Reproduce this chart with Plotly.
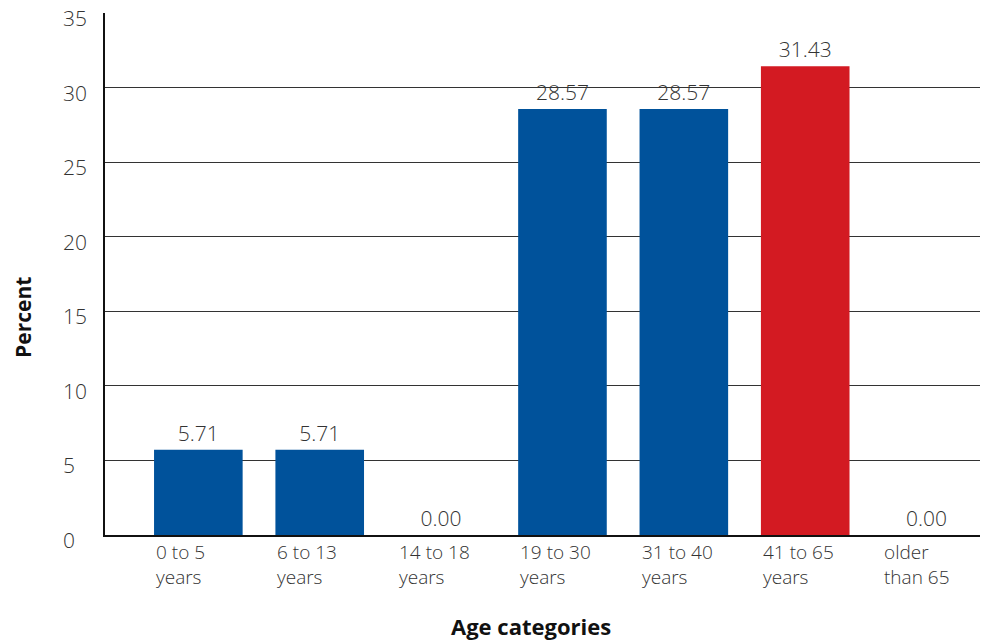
import plotly.graph_objects as go

categories = ["0 to 5<br>years", "6 to 13<br>years", "14 to 18<br>years", "19 to 30<br>years",
              "31 to 40<br>years", "41 to 65<br>years", "older<br>than 65"]
values = [5.71, 5.71, 0.00, 28.57, 28.57, 31.43, 0.00]
y_ticks = [0, 5, 10, 15, 20, 25, 30, 35]

BLUE = "#00529B"
RED = "#D31A22"
colors = [RED if v == max(values) else BLUE for v in values]
FONT = "Open Sans"
TXT = "#333333"
BW = 0.73

x = list(range(len(categories)))
fig = go.Figure()
fig.add_trace(go.Bar(
    x=x, y=values, width=BW, marker=dict(color=colors, line=dict(width=0)),
    text=[f"{v:.2f}" for v in values], textposition="outside",
    textfont=dict(family=FONT, size=21, color=TXT, weight=300), cliponaxis=False,
))

ann = []
for i, c in enumerate(categories):
    ann.append(dict(x=i - BW / 2, y=0, xref="x", yref="y", text=c, showarrow=False,
                    xanchor="left", yanchor="top", align="left", yshift=-2,
                    font=dict(family=FONT, size=19, color=TXT, weight=300)))
for t in y_ticks:
    ann.append(dict(x=-0.05, y=t, xref="paper", yref="y", text=str(t), showarrow=False,
                    xanchor="left", yanchor="middle", yshift=-5,
                    font=dict(family=FONT, size=21, color=TXT, weight=300)))
ann.append(dict(x=0.4865, y=-0.175, xref="paper", yref="paper", text="<b>Age categories</b>",
                showarrow=False, xanchor="center", yanchor="middle",
                font=dict(family=FONT, size=22, color="#111")))
ann.append(dict(x=-0.093, y=0.417, xref="paper", yref="paper", text="<b>Percent</b>",
                showarrow=False, textangle=-90, xanchor="center", yanchor="middle",
                font=dict(family=FONT, size=21, color="#111")))

fig.update_layout(
    width=988, height=641, margin=dict(l=105, r=8, t=13, b=106),
    paper_bgcolor="white", plot_bgcolor="white", showlegend=False,
    annotations=ann,
    xaxis=dict(range=[-0.769, 6.44], showticklabels=False, ticks="", showgrid=False,
               showline=True, linecolor="#111", linewidth=1.5, zeroline=False, fixedrange=True),
    yaxis=dict(range=[0, 35], tickvals=y_ticks, showticklabels=False, ticks="",
               showgrid=True, gridcolor="#333", gridwidth=1.3, showline=True,
               linecolor="#111", linewidth=1.5, zeroline=False),
)
fig.write_html("out.html", config={"displayModeBar": False},
               post_script="document.body.style.margin='0';")
